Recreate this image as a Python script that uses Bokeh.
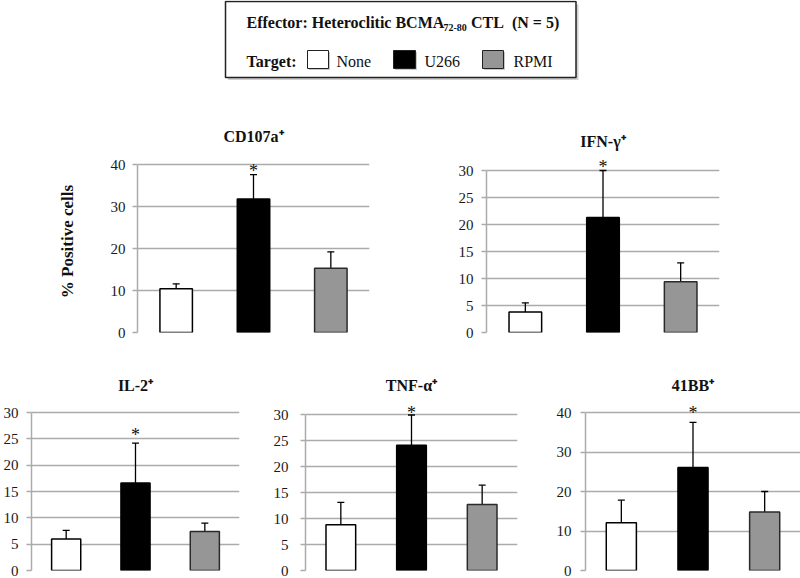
from bokeh.plotting import figure
from bokeh.models import FactorRange, Range1d, FixedTicker, ColumnDataSource, Whisker, TeeHead
from bokeh.layouts import column, row
from bokeh.core.properties import value
from bokeh.embed import file_html
from bokeh.resources import INLINE

# ---------------- data ----------------
targets = ["None", "U266", "RPMI"]
bar_fill = ["#ffffff", "#000000", "#969696"]
bar_line = ["#000000", "#000000", "#2a2a2a"]

cd107a_mean = [10.4, 31.8, 15.3]
cd107a_sd = [1.2, 5.8, 3.9]
ifng_mean = [3.8, 21.3, 9.4]
ifng_sd = [1.7, 8.7, 3.5]
il2_mean = [6.0, 16.6, 7.4]
il2_sd = [1.6, 7.6, 1.6]
tnfa_mean = [8.8, 24.1, 12.7]
tnfa_sd = [4.3, 5.8, 3.7]
bb41_mean = [12.1, 26.1, 14.8]
bb41_sd = [5.7, 11.4, 5.2]

# significance star heights (value units) over U266
star_y = {"cd107a": 39.4, "ifng": 31.3, "il2": 26.4, "tnfa": 31.1, "bb41": 41.0}

FONT = "Liberation Serif"
GRID = "#ababab"


def panel(title, means, sds, star, ymax, step, w, h, mbl, mbr, mbt, mbb,
          tstand, lstand, pad, ylabel=None):
    frame_h = h - mbt - mbb
    y_end = ymax * frame_h / (frame_h - pad)
    p = figure(x_range=FactorRange(*targets), y_range=Range1d(0, y_end),
               width=w, height=h, min_border_left=mbl, min_border_right=mbr,
               min_border_top=mbt, min_border_bottom=mbb,
               output_backend="svg", toolbar_location=None, tools="")
    p.outline_line_color = None
    p.background_fill_color = "white"
    p.border_fill_color = "white"
    p.xaxis.visible = False
    p.xgrid.visible = False
    ticks = list(range(0, ymax + 1, step))
    p.yaxis.ticker = FixedTicker(ticks=ticks)
    p.yaxis.bounds = (0, ymax)
    p.yaxis.major_tick_out = 5
    p.yaxis.major_tick_in = 0
    p.yaxis.minor_tick_out = 0
    p.yaxis.minor_tick_in = 0
    p.yaxis.axis_line_color = GRID
    p.yaxis.axis_line_width = 1.5
    p.yaxis.major_tick_line_color = GRID
    p.yaxis.major_tick_line_width = 1.5
    p.yaxis.major_label_text_font = FONT
    p.yaxis.major_label_text_font_size = "15px"
    p.yaxis.major_label_text_color = "#1a1a1a"
    p.yaxis.major_label_standoff = lstand
    p.ygrid.ticker = FixedTicker(ticks=ticks)
    p.ygrid.grid_line_color = GRID
    p.ygrid.grid_line_width = 1.5
    if ylabel:
        p.yaxis.axis_label = ylabel
        p.yaxis.axis_label_text_font = FONT
        p.yaxis.axis_label_text_font_size = "17px"
        p.yaxis.axis_label_text_font_style = "bold"
        p.yaxis.axis_label_text_color = "#111111"
        p.yaxis.axis_label_standoff = 31

    p.title.text = title
    p.title.align = "center"
    p.title.text_font = FONT
    p.title.text_font_size = "16px"
    p.title.text_font_style = "bold"
    p.title.text_color = "#111111"
    p.title.standoff = tstand

    src = ColumnDataSource(dict(x=targets, top=means, fill=bar_fill, line=bar_line,
                                lower=means, upper=[m + s for m, s in zip(means, sds)]))
    w_ = Whisker(base="x", lower="lower", upper="upper", source=src, dimension="height",
                 line_color="black", line_width=1.3,
                 upper_head=TeeHead(size=7, line_color="black", line_width=1.3),
                 lower_head=None)
    p.add_layout(w_)
    p.vbar(x="x", top="top", width=0.42, source=src, fill_color="fill",
           line_color="line", line_width=1.5)
    p.text(x=["U266"], y=[star], text=["*"], text_align="center",
           text_baseline="alphabetic", text_font=value(FONT),
           text_font_size=value("18px"), text_color="#111111", y_offset=4)
    return p


p1 = panel("CD107a\u207a", cd107a_mean, cd107a_sd, star_y["cd107a"], 40, 10,
           410, 258, 137, 41, 68, 8, 11, 7, 14, ylabel="% Positive cells")
p2 = panel("IFN-\u03b3\u207a", ifng_mean, ifng_sd, star_y["ifng"], 30, 5,
           390, 258, 76, 81, 68, 8, 2, 8, 20)
p3 = panel("IL-2\u207a", il2_mean, il2_sd, star_y["il2"], 30, 5,
           270, 238, 29, 31, 58, 8, 10, 8, 14)
p4 = panel("TNF-\u03b1\u207a", tnfa_mean, tnfa_sd, star_y["tnfa"], 30, 5,
           277, 238, 33, 30, 58, 8, 9, 12, 16)
p5 = panel("41BB\u207a", bb41_mean, bb41_sd, star_y["bb41"], 40, 10,
           253, 238, 38, 0, 58, 8, 9, 9, 14)

# ---------------- legend box ----------------
lg = figure(width=800, height=82, x_range=Range1d(0, 800), y_range=Range1d(82, 0),
            min_border=0, output_backend="svg", toolbar_location=None, tools="")
lg.xaxis.visible = False
lg.yaxis.visible = False
lg.grid.visible = False
lg.outline_line_color = None

lg.quad(left=[227.5], right=[578], top=[4], bottom=[79.5], fill_color="#cfcfcf", line_color=None)
lg.quad(left=[225], right=[575.5], top=[1], bottom=[77], fill_color="white",
        line_color="#222222", line_width=1.5)

sw_left = [307, 393, 482]
sw_right = [328, 415, 503]
lg.quad(left=[v + 1.5 for v in sw_left], right=[v + 1.5 for v in sw_right],
        top=[51.5] * 3, bottom=[69.5] * 3, fill_color="#c8c8c8", line_color=None)
lg.quad(left=sw_left, right=sw_right, top=[50] * 3, bottom=[68] * 3,
        fill_color=bar_fill, line_color="#222222", line_width=1)

bold16 = dict(text_font=value(FONT), text_font_size=value("16px"),
              text_font_style=value("bold"), text_color="#111111",
              text_baseline="middle", text_align="left")
lg.text(x=[246], y=[22], text=["Effector: Heteroclitic BCMA"], **bold16)
lg.text(x=[443], y=[27], text=["72-80"], text_font=value(FONT),
        text_font_size=value("10px"), text_font_style=value("bold"),
        text_color="#111111", text_baseline="middle", text_align="left")
lg.text(x=[470.5], y=[22], text=["CTL\u00a0 (N = 5)"], **bold16)
lg.text(x=[246], y=[61], text=["Target:"], **bold16)
lg.text(x=[336, 424, 513], y=[61] * 3, text=targets,
        text_font=value(FONT), text_font_size=value("16px"),
        text_color="#111111", text_baseline="middle", text_align="left")

layout = column(lg, row(p1, p2), row(p3, p4, p5))

open("out.html", "w").write(file_html(layout, INLINE))
